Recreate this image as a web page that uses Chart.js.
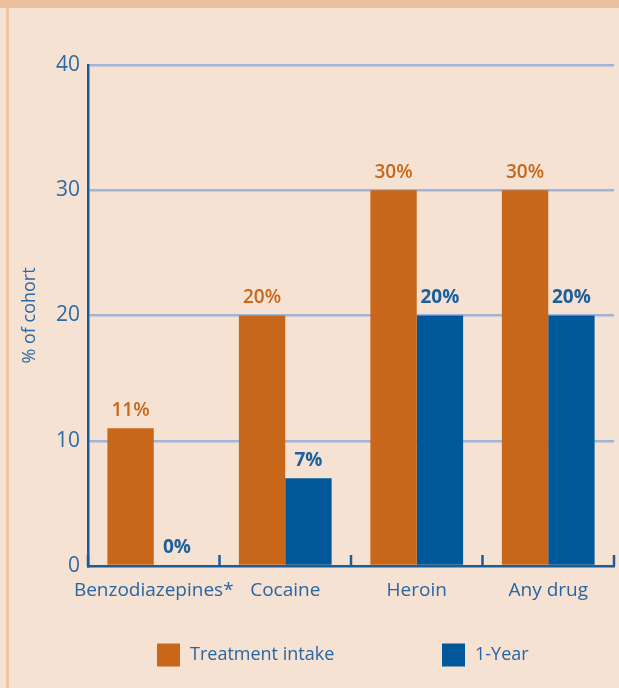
<!DOCTYPE html>
<html>
<head>
<meta charset="utf-8">
<script src="https://cdn.jsdelivr.net/npm/chart.js@4.4.1/dist/chart.umd.min.js"></script>
<style>
  html, body { margin: 0; padding: 0; background: #f5e2d2; }
  #wrap { position: relative; width: 619px; height: 688px; background: #f5e2d2; overflow: hidden; }
  #topband { position: absolute; left: 0; top: 0; width: 619px; height: 8px; background: #ecc09c; }
  #leftline { position: absolute; left: 6px; top: 8px; width: 3px; height: 680px; background: #efc6a4; }
  #chartBox { position: absolute; left: 0; top: 0; width: 619px; height: 688px; }
</style>
</head>
<body>
<div id="wrap">
  <div id="topband"></div>
  <div id="leftline"></div>
  <div id="chartBox"><canvas id="drugChart"></canvas></div>
</div>
<script>
// values
const categories = ['Benzodiazepines*', 'Cocaine', 'Heroin', 'Any drug'];
const intakeValues = [11, 20, 30, 30];
const yearValues = [0, 7, 20, 20];
const yTicks = [0, 10, 20, 30, 40];
const seriesNames = ['Treatment intake', '1-Year'];

const ORANGE = '#c8661a';
const BLUE = '#00589b';
const TEXT_BLUE = '#2a64a2';
const FONT = "'Open Sans', 'Noto Sans', sans-serif";

// percentage labels above each bar
const barLabels = {
  id: 'barLabels',
  afterDatasetsDraw(chart) {
    const ctx = chart.ctx;
    ctx.save();
    ctx.textAlign = 'center';
    ctx.textBaseline = 'middle';
    chart.data.datasets.forEach((ds, di) => {
      const meta = chart.getDatasetMeta(di);
      ctx.fillStyle = di === 0 ? ORANGE : '#1d5f9c';
      ctx.font = (di === 0 ? '600 ' : 'bold ') + '19px ' + FONT;
      meta.data.forEach((bar, i) => {
        ctx.fillText(ds.data[i] + '%', bar.x, bar.y - 18);
      });
    });
    ctx.restore();
  }
};

// short upward tick marks on the x axis at category boundaries
const xTickMarks = {
  id: 'xTickMarks',
  afterDraw(chart) {
    const x = chart.scales.x;
    const ctx = chart.ctx;
    const bottom = chart.chartArea.bottom;
    ctx.save();
    ctx.strokeStyle = '#1b5c9a';
    ctx.lineWidth = 2.5;
    for (let i = 0; i <= categories.length; i++) {
      const px = x.getPixelForValue(i - 0.5);
      ctx.beginPath();
      ctx.moveTo(px, bottom);
      ctx.lineTo(px, bottom - 11);
      ctx.stroke();
    }
    ctx.restore();
  }
};

// legend drawn under the chart
const bottomLegend = {
  id: 'bottomLegend',
  afterDraw(chart) {
    const ctx = chart.ctx;
    const startX = [157, 442];
    const cy = 655;
    ctx.save();
    ctx.font = '18px ' + FONT;
    ctx.textBaseline = 'middle';
    ctx.textAlign = 'left';
    chart.data.datasets.forEach((ds, i) => {
      ctx.fillStyle = ds.backgroundColor;
      ctx.fillRect(startX[i], cy - 11.5, 23, 23);
      ctx.fillStyle = TEXT_BLUE;
      ctx.fillText(ds.label, startX[i] + 33, cy);
    });
    ctx.restore();
  }
};

window.onload = function () {
  const ctx = document.getElementById('drugChart').getContext('2d');

  new Chart(ctx, {
    type: 'bar',
    data: {
      labels: categories,
      datasets: [
        { label: seriesNames[0], data: intakeValues, backgroundColor: ORANGE },
        { label: seriesNames[1], data: yearValues, backgroundColor: BLUE }
      ]
    },
    options: {
      responsive: true,
      maintainAspectRatio: false,
      animation: false,
      layout: { padding: { top: 65, right: 5, bottom: 82, left: 0 } },
      datasets: { bar: { categoryPercentage: 0.705, barPercentage: 1.0 } },
      plugins: {
        legend: { display: false },
        tooltip: { enabled: false }
      },
      scales: {
        x: {
          afterFit(scale) { scale.height = 40; },
          grid: { display: false, drawTicks: false },
          border: { display: true, color: '#1b5c9a', width: 2.5 },
          ticks: {
            color: TEXT_BLUE,
            font: { family: FONT, size: 19 },
            padding: 13,
            maxRotation: 0,
            autoSkip: false
          }
        },
        y: {
          min: 0,
          max: 40,
          afterFit(scale) { scale.width = 88; },
          afterBuildTicks(scale) { scale.ticks = yTicks.map(v => ({ value: v })); },
          grid: {
            drawTicks: false,
            lineWidth: 2.5,
            color: c => (c.tick && c.tick.value === 0) ? 'rgba(0,0,0,0)' : '#a0b4da'
          },
          border: { display: true, color: '#1b5c9a', width: 2.5 },
          ticks: {
            color: '#2d6aa6',
            font: { family: FONT, size: 21 },
            padding: 8
          },
          title: {
            display: true,
            text: '% of cohort',
            color: '#2d6aa6',
            font: { family: FONT, size: 18 },
            padding: { top: 19, bottom: 0 }
          }
        }
      }
    },
    plugins: [barLabels, xTickMarks, bottomLegend]
  });
};
</script>
</body>
</html>
